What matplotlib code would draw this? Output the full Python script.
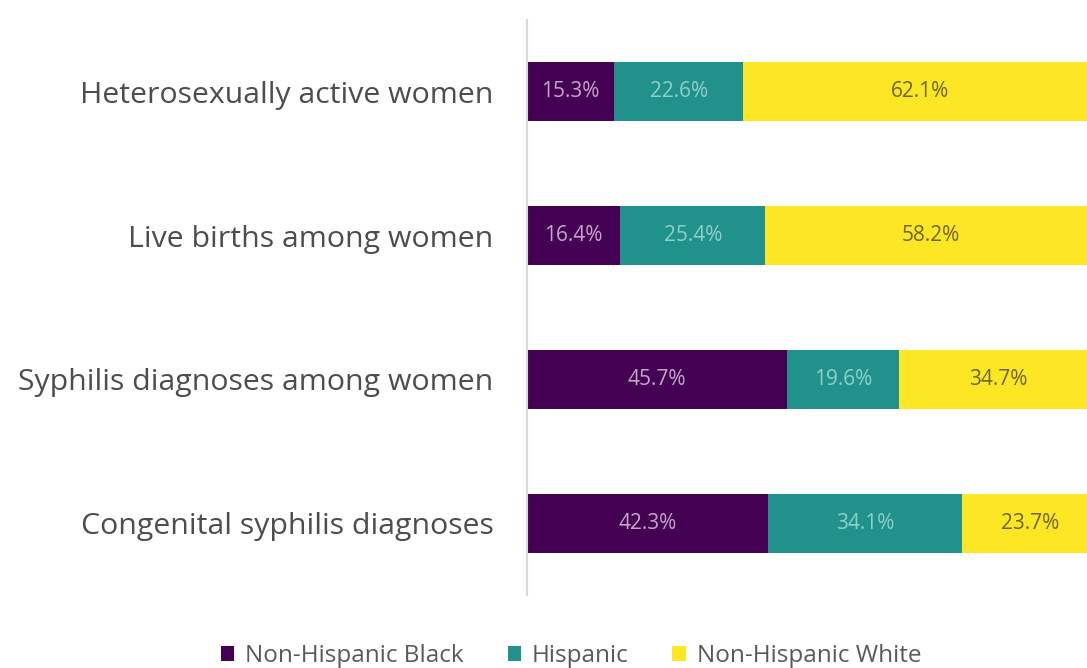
import matplotlib.pyplot as plt
import numpy as np

categories = ['Heterosexually active women', 'Live births among women',
              'Syphilis diagnoses among women', 'Congenital syphilis diagnoses']
groups = ['Non-Hispanic Black', 'Hispanic', 'Non-Hispanic White']
black = [15.3, 16.4, 45.7, 42.3]
hispanic = [22.6, 25.4, 19.6, 34.1]
white = [62.1, 58.2, 34.7, 23.7]

colors = ['#440154', '#21918c', '#fde725']
text_colors = ['#c4a6c8', '#8fd0c8', '#6e6418']

plt.rcParams['font.family'] = ['Open Sans', 'DejaVu Sans']

fig = plt.figure(figsize=(10.87, 6.68), dpi=100)
ax = fig.add_axes([527 / 1087, 73 / 668, 570 / 1087, 575 / 668])

y = np.arange(len(categories))
left = np.zeros(len(categories))
for vals, col, tcol, name in zip([black, hispanic, white], colors, text_colors, groups):
    vals = np.array(vals)
    ax.barh(y, vals, left=left, height=0.41, color=col, label=name)
    for yi, l, v in zip(y, left, vals):
        ax.text(l + v / 2, yi, f'{v:.1f}%', ha='center', va='center',
                fontsize=15, color=tcol)
    left += vals

ax.set_xlim(0, 100)
ax.set_ylim(3.5, -0.5)
ax.set_yticks(y)
ax.set_yticklabels(categories, fontsize=21.8, color='#4d4d4d')
ax.tick_params(axis='y', length=0, pad=24)
ax.set_xticks([])
for s in ['top', 'right', 'bottom']:
    ax.spines[s].set_visible(False)
ax.spines['left'].set_color('#d9d9d9')
ax.spines['left'].set_linewidth(1.5)

fig.legend(loc='center', bbox_to_anchor=(571 / 1087, 12 / 668), ncol=3,
           frameon=False, fontsize=17.5, handlelength=0.55, handleheight=0.55,
           columnspacing=1.8, handletextpad=0.45, labelcolor='#595959')

fig.savefig('out.png', dpi=100)
